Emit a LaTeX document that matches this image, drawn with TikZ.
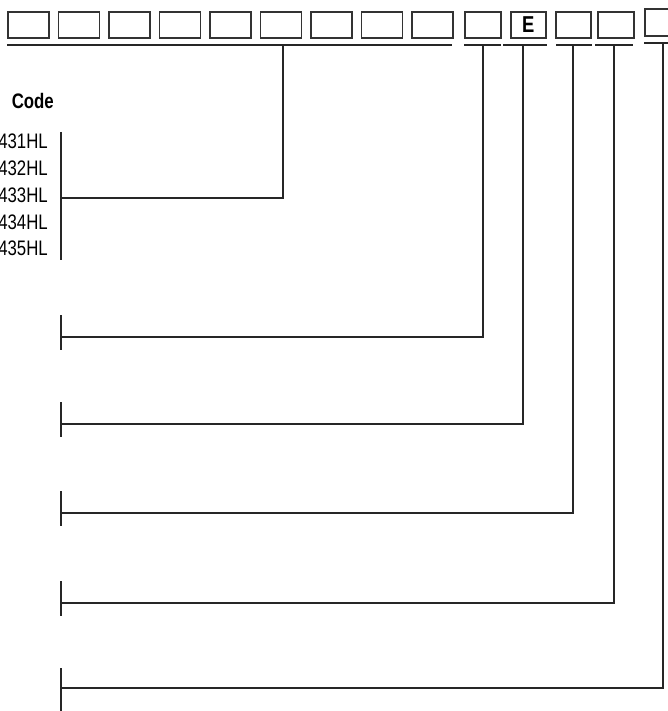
\documentclass[tikz,border=0pt]{standalone}
\usepackage{fontspec}
\setmainfont{Liberation Sans}[FakeStretch=0.8]

\begin{document}
\begin{tikzpicture}[x=1pt, y=-1pt,
  digit/.style={draw=black!80, line width=1.6pt, minimum width=41pt, minimum height=26pt, inner sep=0pt, anchor=north west},
  lead/.style={draw=black!85, line width=1.3pt},
  rule/.style={draw=black!85, line width=1.5pt},
  lbl/.style={anchor=east, inner sep=0pt, font=\fontsize{21}{24}\selectfont}]
  \useasboundingbox (0,0) rectangle (668,711);

  % Kodefelter: ni felter, saa fire plus et afskaaret
  \foreach \i in {0,...,8}
    \node[digit] (a\i) at ({7+50.5*\i},11) {};
  \node[digit, minimum width=36pt] (c1) at (464,11) {};
  \node[digit, minimum width=35pt, font=\bfseries\fontsize{23}{24}\selectfont] (c2) at (510,11) {E};
  \node[digit, minimum width=35pt] (c3) at (555,11) {};
  \node[digit, minimum width=36pt] (c4) at (597,11) {};
  \node[digit, minimum width=36pt, minimum height=27pt] (c5) at (644,8) {};

  % Streger under felterne
  \draw[rule] (7,45) -- (452,45);
  \draw[rule] (464,45) -- (501,45);
  \draw[rule] (503,45) -- (547,45);
  \draw[rule] (556,45) -- (592,45);
  \draw[rule] (595,45) -- (633,45);
  \draw[rule] (644,43) -- (668,43);

  % Typeliste
  \node[lbl, font=\bfseries\fontsize{21}{24}\selectfont] (code) at (54,101) {Code};
  \foreach \n/\y in {431/141, 432/168, 433/195, 434/222, 435/248}
    \node[lbl] (hl\n) at (48,\y) {\n HL};
  \draw[lead] (61,132) -- (61,260);
  \coordinate (t0) at (283,45);
  \coordinate (r0) at (61,198);
  \draw[lead] (t0) |- (r0);

  % Ledninger til de enkelte felter
  \foreach \k/\x/\y in {1/483/337, 2/523/424, 3/573/513, 4/614/603} {
    \coordinate (t\k) at (\x,45);
    \coordinate (r\k) at (61,\y);
    \draw[lead] (t\k) |- (r\k);
    \draw[lead] ([yshift=22pt]r\k) -- ([yshift=-13pt]r\k);
  }
  \coordinate (t5) at (663,43);
  \coordinate (r5) at (61,688);
  \draw[lead] (t5) |- (r5);
  \draw[lead] ([yshift=20pt]r5) -- ([yshift=-30pt]r5);
\end{tikzpicture}
\end{document}
